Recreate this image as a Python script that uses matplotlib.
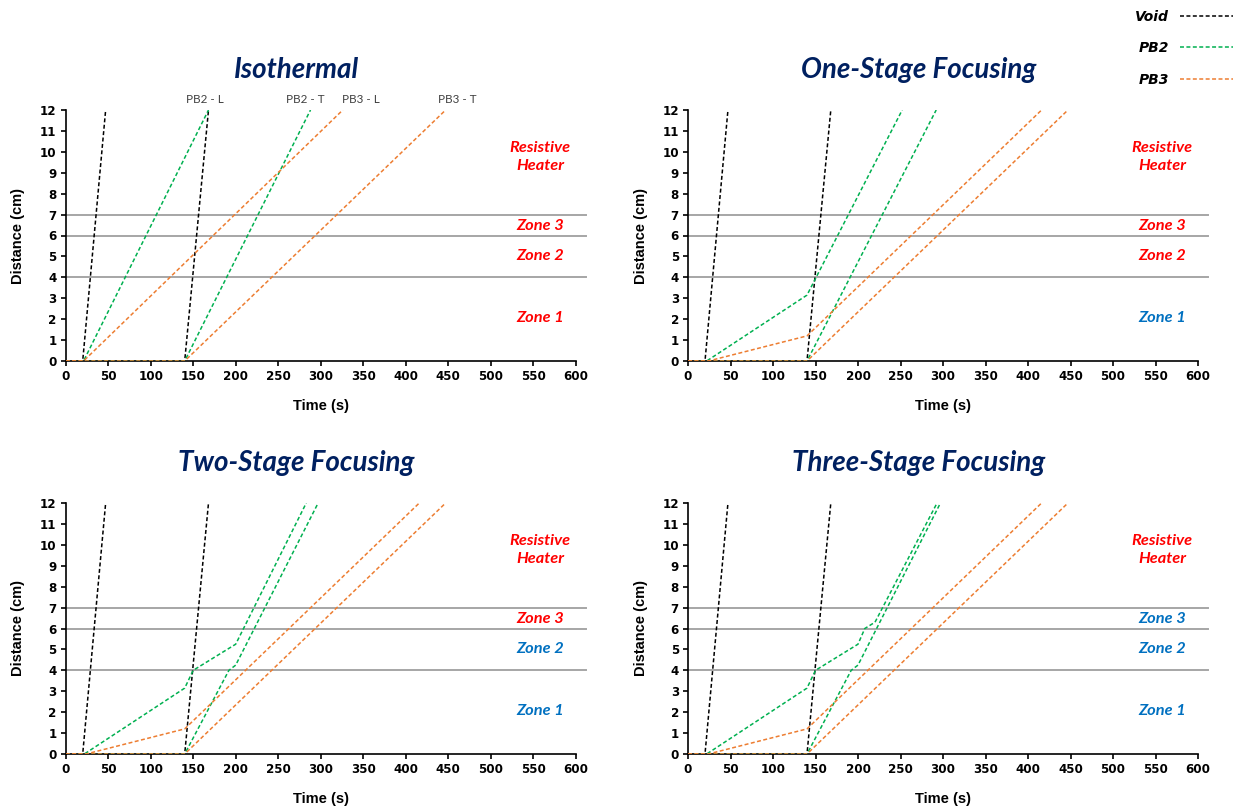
import matplotlib
matplotlib.use("Agg")
import matplotlib.pyplot as plt

# ---------------- data (time in s, distance in cm) ----------------
void_lead_t = [0, 20, 47]
void_lead_d = [0, 0, 12]
void_trail_t = [0, 140, 168]
void_trail_d = [0, 0, 12]

# Isothermal
iso_pb2_lead_t = [0, 21, 168]
iso_pb2_lead_d = [0, 0, 12]
iso_pb2_trail_t = [0, 140, 288]
iso_pb2_trail_d = [0, 0, 12]
iso_pb3_lead_t = [0, 21, 326]
iso_pb3_lead_d = [0, 0, 12]
iso_pb3_trail_t = [0, 140, 447]
iso_pb3_trail_d = [0, 0, 12]

# One-stage focusing
one_pb2_lead_t = [0, 22, 140, 252]
one_pb2_lead_d = [0, 0, 3.15, 12]
one_pb2_trail_t = [0, 140, 292]
one_pb2_trail_d = [0, 0, 12]
one_pb3_lead_t = [0, 24, 140, 416]
one_pb3_lead_d = [0, 0, 1.2, 12]
one_pb3_trail_t = [0, 140, 447]
one_pb3_trail_d = [0, 0, 12]

# Two-stage focusing
two_pb2_lead_t = [0, 22, 140, 150, 200, 283]
two_pb2_lead_d = [0, 0, 3.15, 4.0, 5.25, 12]
two_pb2_trail_t = [0, 140, 192, 200, 297]
two_pb2_trail_d = [0, 0, 4.0, 4.25, 12]
two_pb3_lead_t = [0, 24, 140, 416]
two_pb3_lead_d = [0, 0, 1.2, 12]
two_pb3_trail_t = [0, 140, 447]
two_pb3_trail_d = [0, 0, 12]

# Three-stage focusing
three_pb2_lead_t = [0, 22, 140, 150, 200, 208, 220, 293]
three_pb2_lead_d = [0, 0, 3.15, 4.0, 5.25, 6.0, 6.3, 12]
three_pb2_trail_t = [0, 140, 192, 200, 297]
three_pb2_trail_d = [0, 0, 4.0, 4.25, 12]
three_pb3_lead_t = [0, 24, 140, 416]
three_pb3_lead_d = [0, 0, 1.2, 12]
three_pb3_trail_t = [0, 140, 447]
three_pb3_trail_d = [0, 0, 12]

zone_boundaries = [4, 6, 7]
zone_labels = ["Zone 1", "Zone 2", "Zone 3", "Resistive\nHeater"]
zone_label_y = [2.05, 5.0, 6.45, 9.75]

panel_titles = ["Isothermal", "One-Stage Focusing", "Two-Stage Focusing", "Three-Stage Focusing"]
# which zones are heated (blue) in each panel
zone_active = [
    [False, False, False, False],
    [True, False, False, False],
    [True, True, False, False],
    [True, True, True, False],
]

iso_annot_text = ["PB2 - L", "PB2 - T", "PB3 - L", "PB3 - T"]
iso_annot_x = [164, 282, 347, 461]

x_ticks = list(range(0, 601, 50))
y_ticks = list(range(0, 13, 1))

# ---------------- style ----------------
C_VOID = "#000000"
C_PB2 = "#00B050"
C_PB3 = "#ED7D31"
C_TITLE = "#002060"
C_RED = "#FF0000"
C_BLUE = "#0070C0"
C_GRID = "#A6A6A6"
DASH = (0, (2.6, 1.6))
LW = 1.1

W, H = 1236, 809
fig = plt.figure(figsize=(W / 100, H / 100), dpi=100)

ax_w = 510 / W
ax_h = 251 / H
positions = [
    (65.7 / W, 1 - 361 / H),
    (688 / W, 1 - 361 / H),
    (65.7 / W, 1 - 754 / H),
    (688 / W, 1 - 754 / H),
]

series = [
    [(iso_pb2_lead_t, iso_pb2_lead_d), (iso_pb2_trail_t, iso_pb2_trail_d),
     (iso_pb3_lead_t, iso_pb3_lead_d), (iso_pb3_trail_t, iso_pb3_trail_d)],
    [(one_pb2_lead_t, one_pb2_lead_d), (one_pb2_trail_t, one_pb2_trail_d),
     (one_pb3_lead_t, one_pb3_lead_d), (one_pb3_trail_t, one_pb3_trail_d)],
    [(two_pb2_lead_t, two_pb2_lead_d), (two_pb2_trail_t, two_pb2_trail_d),
     (two_pb3_lead_t, two_pb3_lead_d), (two_pb3_trail_t, two_pb3_trail_d)],
    [(three_pb2_lead_t, three_pb2_lead_d), (three_pb2_trail_t, three_pb2_trail_d),
     (three_pb3_lead_t, three_pb3_lead_d), (three_pb3_trail_t, three_pb3_trail_d)],
]

handles = []
for i, (pos, title, ser, active) in enumerate(zip(positions, panel_titles, series, zone_active)):
    ax = fig.add_axes([pos[0], pos[1], ax_w, ax_h])
    for yb in zone_boundaries:
        ax.axhline(yb, xmin=0, xmax=1.02, color=C_GRID, lw=1.4, clip_on=False, zorder=1)
    lv, = ax.plot(void_lead_t, void_lead_d, color=C_VOID, ls=DASH, lw=LW, label="Void", zorder=3)
    ax.plot(void_trail_t, void_trail_d, color=C_VOID, ls=DASH, lw=LW, zorder=3)
    (p2l, p2t, p3l, p3t) = ser
    l2, = ax.plot(*p2l, color=C_PB2, ls=DASH, lw=LW, label="PB2", zorder=4)
    ax.plot(*p2t, color=C_PB2, ls=DASH, lw=LW, zorder=4)
    l3, = ax.plot(*p3l, color=C_PB3, ls=DASH, lw=LW, label="PB3", zorder=5)
    ax.plot(*p3t, color=C_PB3, ls=DASH, lw=LW, zorder=5)
    if i == 0:
        handles = [lv, l2, l3]

    ax.set_xlim(0, 600)
    ax.set_ylim(0, 12)
    ax.set_xticks(x_ticks)
    ax.set_yticks(y_ticks)
    for s in ["top", "right"]:
        ax.spines[s].set_visible(False)
    for s in ["left", "bottom"]:
        ax.spines[s].set_linewidth(1.2)
        ax.spines[s].set_color("#000000")
    ax.tick_params(direction="out", length=3.5, width=1.2, pad=3)
    for lab in ax.get_xticklabels() + ax.get_yticklabels():
        lab.set_fontfamily("DejaVu Sans")
        lab.set_fontweight("bold")
        lab.set_fontsize(8.6)

    ax.set_xlabel("Time (s)", fontsize=10.5, fontweight="bold", family="Liberation Sans")
    ax.set_ylabel("Distance (cm)", fontsize=10.5, fontweight="bold", family="Liberation Sans")
    ax.xaxis.set_label_coords(0.5, -0.15)
    ax.yaxis.set_label_coords(-0.079, 0.5)

    ax.text(0.453, 1.16, title, transform=ax.transAxes, ha="center", va="center",
            fontsize=20, fontweight="bold", fontstyle="italic", color=C_TITLE, family="Lato")

    for lab, yy, act in zip(zone_labels, zone_label_y, active):
        ax.text(558, yy, lab, ha="center", va="center", fontsize=11.8, fontweight="bold",
                fontstyle="italic", color=(C_BLUE if act else C_RED), family="Lato",
                linespacing=1.4)

    if i == 0:
        for t, xx in zip(iso_annot_text, iso_annot_x):
            ax.text(xx, 12.48, t, ha="center", va="center", fontsize=8.4, color="#404040",
                    family="Lato", clip_on=False)

fig.legend(handles=handles, labels=["Void", "PB2", "PB3"], loc="upper right",
           bbox_to_anchor=(1245 / W, 1 + 3 / H), frameon=False, markerfirst=False,
           handlelength=3.8, handletextpad=0.8, labelspacing=1.26,
           prop={"family": "DejaVu Sans", "weight": "bold", "style": "italic", "size": 10})

fig.savefig("out.png", dpi=100)
